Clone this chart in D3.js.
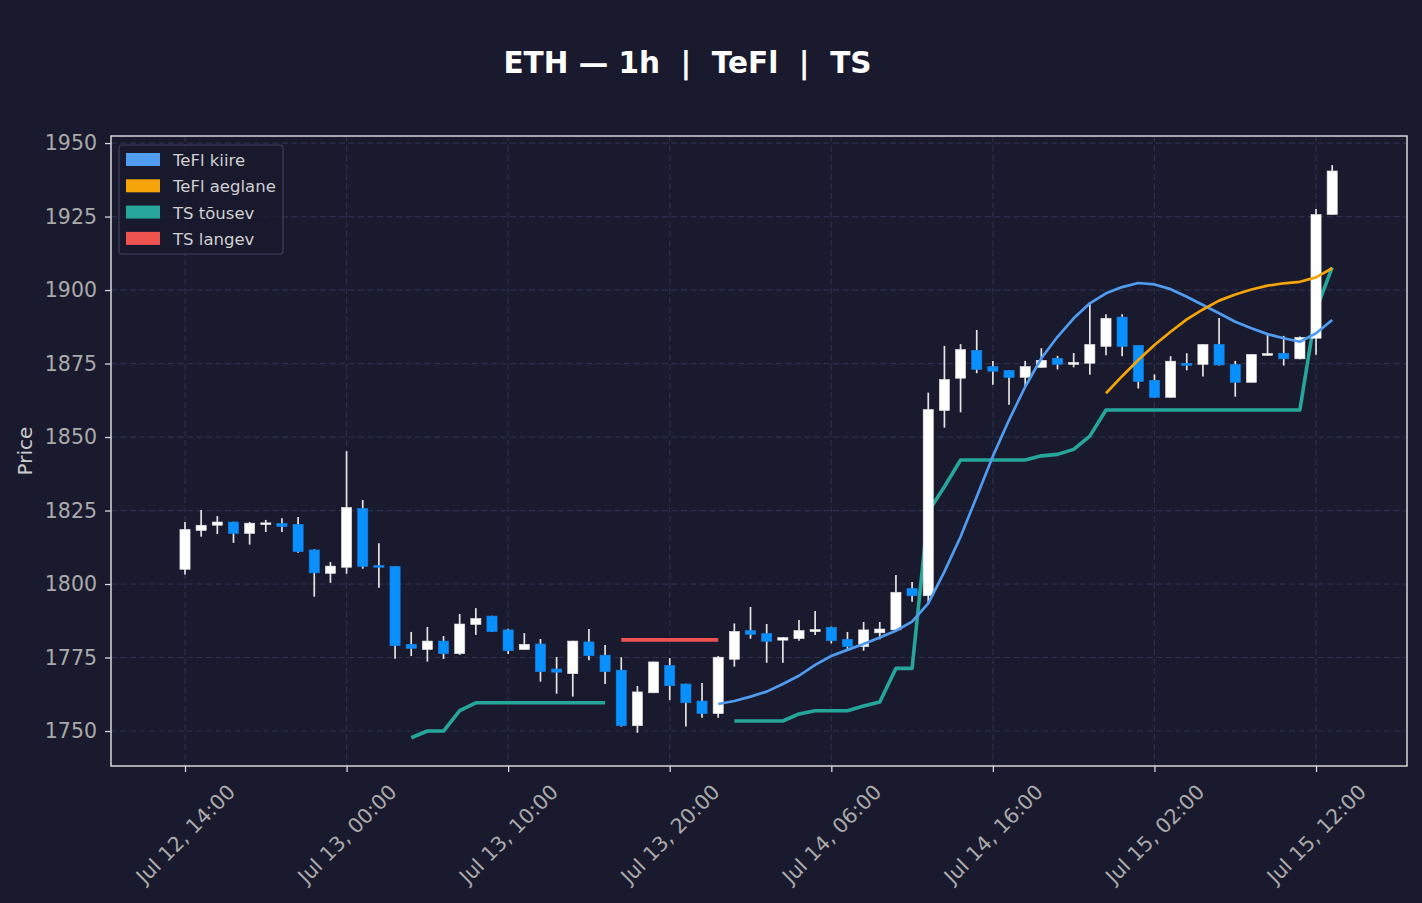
<!DOCTYPE html>
<html>
<head>
<meta charset="utf-8">
<script src="https://cdn.jsdelivr.net/npm/d3@7"></script>
<style>
  html, body { margin: 0; padding: 0; background: #1a1a2e; }
  svg { display: block; font-family: "DejaVu Sans", sans-serif; }
</style>
</head>
<body>
<div id="chart"></div>
<script>
// ---- data ----
const startTime = Date.UTC(2023, 6, 12, 14); // Jul 12, 14:00, one candle per hour
const hour = 3600 * 1000;

const open = [1805.0, 1818.2, 1820.0, 1821.1, 1817.2, 1820.2, 1820.6, 1820.3, 1811.6, 1803.6,
  1805.7, 1825.7, 1806.3, 1806.0, 1779.5, 1777.7, 1780.6, 1776.3, 1786.2, 1789.1,
  1784.4, 1777.7, 1779.6, 1771.1, 1769.5, 1780.3, 1775.8, 1770.7, 1751.8, 1763.0,
  1772.3, 1766.0, 1760.2, 1755.9, 1774.4, 1784.2, 1783.2, 1780.9, 1781.4, 1783.8,
  1785.3, 1781.2, 1778.7, 1783.4, 1784.4, 1798.5, 1796.0, 1859.0, 1870.0, 1879.5,
  1874.0, 1872.7, 1870.3, 1873.7, 1876.8, 1874.7, 1875.1, 1880.8, 1890.8, 1881.2,
  1869.3, 1863.5, 1875.1, 1874.7, 1881.5, 1874.7, 1868.6, 1877.8, 1878.5, 1876.6,
  1883.6, 1925.7];
const high = [1821.1, 1825.2, 1823.1, 1821.2, 1821.1, 1821.8, 1822.4, 1822.8, 1811.8, 1807.5,
  1845.2, 1828.6, 1813.9, 1806.1, 1783.7, 1785.4, 1782.3, 1789.8, 1791.8, 1789.2,
  1784.8, 1783.3, 1781.3, 1775.2, 1780.7, 1784.7, 1779.3, 1775.1, 1765.3, 1773.6,
  1774.8, 1766.1, 1766.3, 1775.5, 1786.6, 1792.2, 1786.4, 1781.9, 1787.8, 1790.8,
  1785.5, 1783.7, 1787.1, 1787.1, 1803.1, 1800.7, 1865.1, 1881.0, 1881.6, 1886.4,
  1875.9, 1872.8, 1875.9, 1880.2, 1877.6, 1878.6, 1895.6, 1891.8, 1891.8, 1881.3,
  1871.3, 1877.5, 1878.5, 1881.6, 1890.5, 1875.9, 1878.2, 1885.0, 1884.4, 1884.2,
  1927.6, 1942.5];
const low = [1803.2, 1816.1, 1817.0, 1814.0, 1813.4, 1817.7, 1817.7, 1810.6, 1795.7, 1800.4,
  1803.5, 1805.2, 1798.7, 1774.6, 1775.5, 1773.6, 1774.5, 1775.9, 1782.7, 1783.7,
  1776.2, 1777.6, 1766.8, 1762.7, 1761.7, 1774.1, 1766.0, 1751.5, 1749.4, 1762.9,
  1760.5, 1751.5, 1754.5, 1754.5, 1771.9, 1781.4, 1773.2, 1773.2, 1780.7, 1782.7,
  1779.8, 1777.6, 1777.3, 1781.2, 1784.3, 1794.0, 1793.4, 1853.2, 1858.4, 1871.7,
  1867.8, 1861.0, 1867.3, 1873.6, 1873.0, 1873.7, 1871.2, 1877.8, 1877.5, 1866.5,
  1863.4, 1863.4, 1872.7, 1870.6, 1874.3, 1863.7, 1868.5, 1877.7, 1874.3, 1876.5,
  1878.0, 1925.6];
const close = [1818.6, 1820.0, 1821.1, 1817.2, 1820.7, 1820.8, 1819.6, 1811.0, 1803.8, 1806.1,
  1826.1, 1806.0, 1805.7, 1779.0, 1778.1, 1780.6, 1776.3, 1786.4, 1788.3, 1783.8,
  1777.3, 1779.5, 1770.2, 1770.0, 1780.6, 1775.6, 1770.2, 1751.8, 1763.3, 1773.5,
  1765.4, 1759.6, 1755.9, 1775.1, 1783.9, 1782.9, 1780.5, 1781.8, 1784.2, 1784.5,
  1780.7, 1778.7, 1784.4, 1784.7, 1797.2, 1796.0, 1859.4, 1869.6, 1879.8, 1873.0,
  1872.4, 1870.3, 1874.0, 1876.1, 1874.7, 1875.4, 1881.5, 1890.4, 1880.8, 1868.9,
  1863.5, 1875.8, 1874.4, 1881.5, 1874.5, 1868.6, 1878.1, 1878.4, 1876.6, 1883.9,
  1925.7, 1940.5];

const _ = null;
const teflFast = [_, _, _, _, _, _, _, _, _, _, _, _, _, _, _, _, _, _, _, _,
  _, _, _, _, _, _, _, _, _, _, _, _, _, 1759.2, 1760.2, 1761.7, 1763.4, 1766.0, 1768.8, 1772.5,
  1775.5, 1777.6, 1779.6, 1781.8, 1784.1, 1787.2, 1793.4, 1804.2, 1816.1, 1829.7,
  1843.5, 1855.8, 1867.1, 1876.8, 1884.1, 1890.4, 1895.5, 1898.9, 1901.0, 1902.4,
  1901.9, 1900.3, 1897.7, 1894.9, 1892.1, 1889.2, 1887.0, 1885.0, 1883.6, 1882.4,
  1885.3, 1889.8];
const teflSlow = [_, _, _, _, _, _, _, _, _, _, _, _, _, _, _, _, _, _, _, _,
  _, _, _, _, _, _, _, _, _, _, _, _, _, _, _, _, _, _, _, _,
  _, _, _, _, _, _, _, _, _, _, _, _, _, _, _, _, _, 1864.9, 1870.7, 1876.2,
  1881.3, 1885.8, 1890.0, 1893.4, 1896.4, 1898.5, 1900.2, 1901.5, 1902.3, 1902.8,
  1904.3, 1907.4];
const tsUp = [_, _, _, _, _, _, _, _, _, _, _, _, _, _, 1747.7, 1750.0, 1750.0, 1756.9, 1759.6, 1759.6,
  1759.6, 1759.6, 1759.6, 1759.6, 1759.6, 1759.6, 1759.6, _, _, _, _, _, _, _, 1753.4, 1753.4, 1753.4, 1753.4, 1755.8, 1756.9,
  1756.9, 1756.9, 1758.5, 1759.9, 1771.3, 1771.3, 1824.6, 1833.1, 1842.2, 1842.2,
  1842.2, 1842.2, 1842.2, 1843.6, 1844.1, 1845.8, 1850.3, 1859.2, 1859.2, 1859.2,
  1859.2, 1859.2, 1859.2, 1859.2, 1859.2, 1859.2, 1859.2, 1859.2, 1859.2, 1859.2,
  1893.2, 1907.7];
const tsDown = [_, _, _, _, _, _, _, _, _, _, _, _, _, _, _, _, _, _, _, _,
  _, _, _, _, _, _, _, 1781.0, 1781.0, 1781.0, 1781.0, 1781.0, 1781.0, 1781.0, _, _, _, _, _, _,
  _, _, _, _, _, _, _, _, _, _, _, _, _, _, _, _, _, _, _, _,
  _, _, _, _, _, _, _, _, _, _, _, _];

const yTicks = [1750, 1775, 1800, 1825, 1850, 1875, 1900, 1925, 1950];
const xTickHours = [0, 10, 20, 30, 40, 50, 60, 70];
const legendNames = ["TeFl kiire", "TeFl aeglane", "TS tõusev", "TS langev"];
const legendColors = ["#4f9cf0", "#f5a50a", "#26a69a", "#ef5350"];

// ---- layout ----
const W = 1422, H = 903;
const plot = { left: 111, right: 1407, top: 136, bottom: 766 };
const bg = "#1a1a2e";

const candles = open.map((o, i) => ({
  t: new Date(startTime + i * hour), o, h: high[i], l: low[i], c: close[i]
}));

const x = d3.scaleUtc()
  .domain([new Date(startTime - 4.58 * hour), new Date(startTime + 75.63 * hour)])
  .range([plot.left, plot.right]);
const y = d3.scaleLinear()
  .domain([1738.1, 1952.4])
  .range([plot.bottom, plot.top]);

const svg = d3.select("#chart").append("svg")
  .attr("width", W).attr("height", H);
svg.append("rect").attr("width", W).attr("height", H).attr("fill", bg);

// title
svg.append("text")
  .attr("x", 687.5).attr("y", 73)
  .attr("text-anchor", "middle")
  .style("white-space", "pre")
  .attr("fill", "#ffffff")
  .style("font-size", "29.5px")
  .style("font-weight", "bold")
  .text("ETH — 1h  |  TeFl  |  TS");

// grid
const xTicks = xTickHours.map(h => new Date(startTime + h * hour));
const grid = svg.append("g").attr("stroke", "#2d2e4c").attr("stroke-width", 1.2)
  .attr("stroke-dasharray", "6,3.5");
grid.selectAll(".gy").data(yTicks).join("line")
  .attr("x1", plot.left).attr("x2", plot.right)
  .attr("y1", d => y(d)).attr("y2", d => y(d));
grid.selectAll(".gx").data(xTicks).join("line")
  .attr("y1", plot.top).attr("y2", plot.bottom)
  .attr("x1", d => x(d)).attr("x2", d => x(d));

// lines
function drawLine(values, color, width) {
  const line = d3.line()
    .defined(d => d != null)
    .x((d, i) => x(candles[i].t))
    .y(d => y(d));
  svg.append("path")
    .datum(values)
    .attr("fill", "none")
    .attr("stroke", color)
    .attr("stroke-width", width)
    .attr("stroke-linejoin", "round")
    .attr("d", line);
}
drawLine(tsUp, legendColors[2], 3.6);
drawLine(tsDown, legendColors[3], 3.6);

// candles
const step = x(candles[1].t) - x(candles[0].t);
const bodyW = step * 0.63;
const upColor = "#ffffff", downColor = "#0890ff";
const cg = svg.append("g");
cg.selectAll(".wick").data(candles).join("line")
  .attr("x1", d => x(d.t)).attr("x2", d => x(d.t))
  .attr("y1", d => y(d.h)).attr("y2", d => y(d.l))
  .attr("stroke", "#e4e4e4").attr("stroke-width", 1.7);
cg.selectAll(".body").data(candles).join("rect")
  .attr("x", d => x(d.t) - bodyW / 2)
  .attr("width", bodyW)
  .attr("y", d => y(Math.max(d.o, d.c)))
  .attr("height", d => Math.max(1.5, Math.abs(y(d.o) - y(d.c))))
  .attr("fill", d => d.c >= d.o ? upColor : downColor)
  .attr("stroke", d => d.c >= d.o ? "#dcdcdc" : "#1a7fe0")
  .attr("stroke-width", 0.6);

drawLine(teflFast, legendColors[0], 2.7);
drawLine(teflSlow, legendColors[1], 2.7);

// frame
svg.append("rect")
  .attr("x", plot.left).attr("y", plot.top)
  .attr("width", plot.right - plot.left).attr("height", plot.bottom - plot.top)
  .attr("fill", "none").attr("stroke", "#d6d6d6").attr("stroke-width", 1.5);

// axes
const yAxis = svg.append("g")
  .attr("transform", `translate(${plot.left},0)`)
  .call(d3.axisLeft(y).tickValues(yTicks).tickSize(6).tickPadding(8).tickFormat(d3.format("d")));
yAxis.select(".domain").remove();
yAxis.selectAll(".tick line").attr("stroke", "#d6d6d6").attr("stroke-width", 1.3);
yAxis.selectAll(".tick text")
  .attr("fill", "#aaaaaa")
  .style("font-size", "20.5px")
  .style("font-family", "DejaVu Sans, sans-serif");

const xAxis = svg.append("g")
  .attr("transform", `translate(0,${plot.bottom})`)
  .call(d3.axisBottom(x).tickValues(xTicks).tickSize(6).tickFormat(d3.utcFormat("%b %d, %H:%M")));
xAxis.select(".domain").remove();
xAxis.selectAll(".tick line").attr("stroke", "#d6d6d6").attr("stroke-width", 1.3);
xAxis.selectAll(".tick text")
  .attr("fill", "#aaaaaa")
  .style("font-size", "20.5px")
  .style("font-family", "DejaVu Sans, sans-serif")
  .attr("text-anchor", "middle")
  .attr("y", 0).attr("dy", "0.35em")
  .attr("transform", "translate(0,68) rotate(-45)");

// y label
svg.append("text")
  .attr("transform", `translate(32,${(plot.top + plot.bottom) / 2}) rotate(-90)`)
  .attr("text-anchor", "middle")
  .attr("fill", "#cccccc")
  .style("font-size", "20px")
  .text("Price");

// legend
const lg = svg.append("g").attr("transform", "translate(119,145)");
lg.append("rect")
  .attr("width", 164).attr("height", 109).attr("rx", 3)
  .attr("fill", bg).attr("fill-opacity", 0.85)
  .attr("stroke", "#3e3f5e").attr("stroke-width", 1.2);
legendNames.forEach((name, i) => {
  const row = lg.append("g").attr("transform", `translate(0,${15 + i * 26.3})`);
  row.append("rect")
    .attr("x", 7).attr("y", -7).attr("width", 34).attr("height", 13)
    .attr("fill", legendColors[i]);
  row.append("text")
    .attr("x", 54).attr("y", 6)
    .attr("fill", "#d0d0d0")
    .style("font-size", "16.5px")
    .text(name);
});
</script>
</body>
</html>
